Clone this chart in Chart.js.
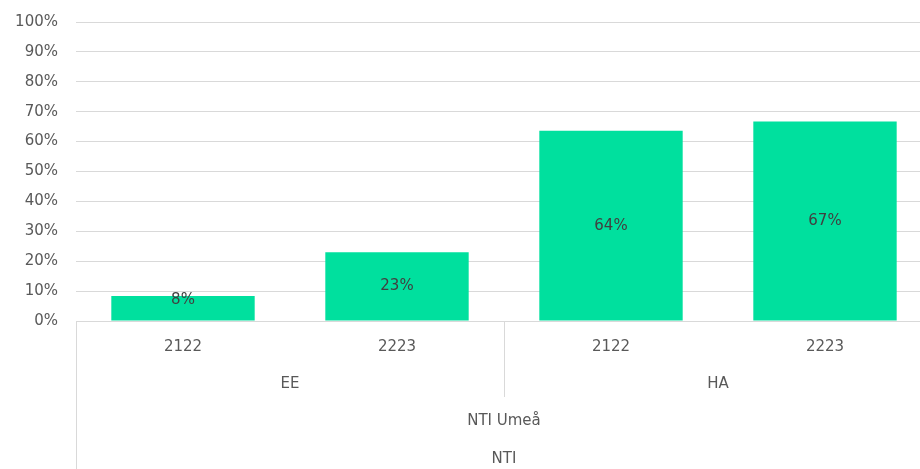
<!DOCTYPE html>
<html>
<head>
<meta charset="utf-8">
<script src="https://cdn.jsdelivr.net/npm/chart.js@4.4.0/dist/chart.umd.min.js"></script>
<style>
  html, body { margin: 0; padding: 0; background: #fff; overflow: hidden; }
  #wrap { width: 932px; height: 474px; position: relative; top: -5px; }
</style>
</head>
<body>
<div id="wrap"><canvas id="chart"></canvas></div>
<script>
const years = ['2122', '2223', '2122', '2223'];
const programs = ['EE', 'HA'];
const school = 'NTI Umeå';
const org = 'NTI';
const shares = [8.4, 23, 63.6, 66.7];
const shareLabels = ['8%', '23%', '64%', '67%'];

const fontFamily = '"DejaVu Sans", sans-serif';
const textColor = '#595959';
const lineColor = '#d9d9d9';

// draws the grouped category rows below the plot and the value labels on bars
const groupAxis = {
    id: 'groupAxis',
    afterDraw(chart) {
        const ctx = chart.ctx;
        const x = chart.scales.x;
        const area = chart.chartArea;
        const bottom = chart.height;

        ctx.save();
        ctx.strokeStyle = lineColor;
        ctx.lineWidth = 1;

        const mid = (x.getPixelForValue(1) + x.getPixelForValue(2)) / 2;
        ctx.beginPath();
        ctx.moveTo(area.left + 0.5, area.bottom);
        ctx.lineTo(area.left + 0.5, bottom);
        ctx.moveTo(Math.round(mid) + 0.5, area.bottom);
        ctx.lineTo(Math.round(mid) + 0.5, area.bottom + 76);
        ctx.stroke();

        ctx.fillStyle = textColor;
        ctx.font = '15px ' + fontFamily;
        ctx.textAlign = 'center';
        ctx.textBaseline = 'middle';

        years.forEach((y, i) => {
            ctx.fillText(y, x.getPixelForValue(i), area.bottom + 26);
        });
        programs.forEach((p, i) => {
            const c = (x.getPixelForValue(i * 2) + x.getPixelForValue(i * 2 + 1)) / 2;
            ctx.fillText(p, c, area.bottom + 63);
        });
        const center = (area.left + area.right) / 2;
        ctx.fillText(school, center, area.bottom + 100);
        ctx.fillText(org, center, area.bottom + 138);

        // value labels
        ctx.fillStyle = '#404040';
        const meta = chart.getDatasetMeta(0);
        meta.data.forEach((bar, i) => {
            const cy = Math.min((bar.y + bar.base) / 2, bar.base - 20);
            ctx.fillText(shareLabels[i], bar.x, cy);
        });
        ctx.restore();
    }
};

new Chart(document.getElementById('chart'), {
    type: 'bar',
    data: {
        labels: years,
        datasets: [{
            data: shares,
            backgroundColor: '#00e09e',
            borderWidth: 0,
            categoryPercentage: 1,
            barPercentage: 0.67
        }]
    },
    options: {
        responsive: true,
        maintainAspectRatio: false,
        animation: false,
        layout: { padding: { top: 13, right: 0, left: 0, bottom: 0 } },
        plugins: {
            legend: { display: false },
            tooltip: { enabled: false }
        },
        scales: {
            x: {
                grid: { display: false, drawTicks: false },
                border: { color: lineColor },
                ticks: { display: false },
                afterFit(scale) { scale.height = 148; }
            },
            y: {
                min: 0,
                max: 100,
                grid: { color: lineColor, drawTicks: false },
                border: { display: false },
                ticks: {
                    stepSize: 10,
                    padding: 18,
                    color: textColor,
                    font: { family: fontFamily, size: 15 },
                    callback: v => v + '%'
                },
                afterFit(scale) { scale.width = 76; }
            }
        }
    },
    plugins: [groupAxis]
});
</script>
</body>
</html>
